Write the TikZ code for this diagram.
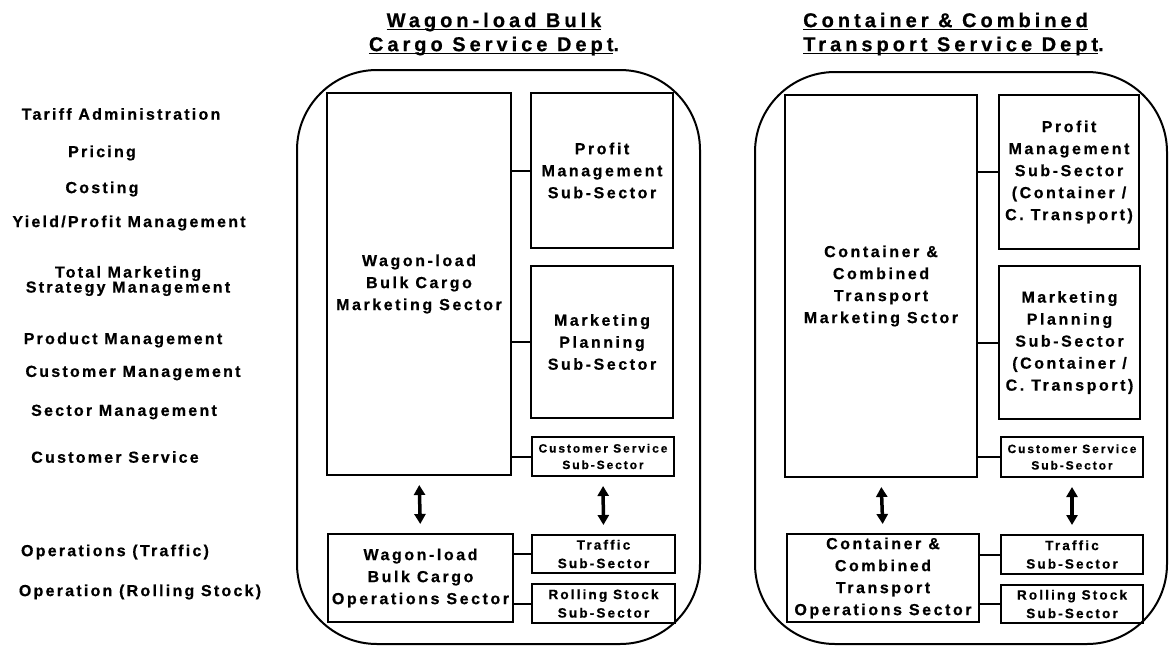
\documentclass[tikz,border=0pt]{standalone}
\usepackage{fontspec}
\setmainfont{Liberation Sans}
\newfontfamily\lsp{Liberation Sans}[LetterSpace=16, BoldFeatures={FakeBold=0.6}]
\newfontfamily\labf{Liberation Sans}[LetterSpace=14, BoldFeatures={FakeBold=0.6}]
\newfontfamily\tsp{Liberation Sans}[LetterSpace=20, BoldFeatures={FakeBold=0.6}]
\usetikzlibrary{arrows.meta}
\newcommand\myul[1]{\leavevmode\setbox0\hbox{#1}\rlap{\rule[-3pt]{\wd0}{1.5pt}}\box0}
\begin{document}
\begin{tikzpicture}[x=1pt,y=-1pt,
  frame/.style={draw, line width=2pt, rounded corners=80pt},
  box/.style={draw, line width=2pt, inner sep=0pt, align=center,
    font=\lsp\bfseries\fontsize{16}{22}\selectfont},
  smallbox/.style={box, font=\lsp\bfseries\fontsize{13.5}{18.5}\selectfont},
  tinybox/.style={box, font=\lsp\bfseries\fontsize{12}{16.5}\selectfont},
  lab/.style={inner sep=0pt, align=center, font=\labf\bfseries\fontsize{16}{15}\selectfont},
  ttl/.style={inner sep=0pt, font=\tsp\bfseries\fontsize{20}{24}\selectfont},
  link/.style={line width=2pt},
  dbl/.style={{Triangle[length=10pt,width=11pt]}-{Triangle[length=10pt,width=11pt]}, line width=3.5pt, shorten <=9pt, shorten >=9pt}]
\useasboundingbox (0,0) rectangle (1172,645);

% titles
\node[ttl, align=center] (t1) at (494,34) {\myul{Wagon-load Bulk}\\\myul{Cargo Service Dept}.};
\node[ttl, align=left, anchor=west] (t2) at (803,34) {\myul{Container \& Combined}\\\myul{Transport Service Dept}.};

% left labels
\node[lab] (l1) at (121,114) {Tariff Administration};
\node[lab] (l2) at (102,153) {Pricing};
\node[lab] (l3) at (102,189) {Costing};
\node[lab] (l4) at (129,223) {Yield/Profit Management};
\node[lab] (l5) at (128,281) {Total Marketing\\Strategy Management};
\node[lab] (l6) at (123,340) {Product Management};
\node[lab] (l7) at (133,373) {Customer Management};
\node[lab] (l8) at (124,412) {Sector Management};
\node[lab] (l9) at (115,457) {Customer Service};
\node[lab] (l10) at (115,552) {Operations (Traffic)};
\node[lab] (l11) at (140,592) {Operation (Rolling Stock)};

% frames
\draw[frame] (297,70) rectangle (700,644);
\draw[frame] (755,72) rectangle (1167,644);

% left department
\node[box, minimum width=184, minimum height=382] (mk) at (419,284) {Wagon-load\\Bulk Cargo\\Marketing Sector};
\node[box, minimum width=142, minimum height=155] (pm) at (602,170.5) {Profit\\Management\\Sub-Sector};
\node[box, minimum width=142, minimum height=152] (mp) at (602,342) {Marketing\\Planning\\Sub-Sector};
\node[tinybox, minimum width=142, minimum height=39] (cs) at (603,456.5) {Customer Service\\Sub-Sector};
\node[box, minimum width=185, minimum height=88] (ops) at (420.5,578) {Wagon-load\\Bulk Cargo\\Operations Sector};
\node[smallbox, minimum width=143, minimum height=38] (tr) at (603.5,554) {Traffic\\Sub-Sector};
\node[smallbox, minimum width=143, minimum height=39] (rs) at (603.5,603.5) {Rolling Stock\\Sub-Sector};

\draw[link] (pm.west) -- (pm.west -| mk.east);
\draw[link] (mp.west) -- (mp.west -| mk.east);
\draw[link] (cs.west) -- (cs.west -| mk.east);
\draw[link] (tr.west) -- (tr.west -| ops.east);
\draw[link] (rs.west) -- (rs.west -| ops.east);
\draw[dbl] (mk.south) -- (ops.north);
\draw[dbl] (cs.south) -- (tr.north);

% right department
\node[box, minimum width=192, minimum height=382] (mk2) at (881,286) {Container \&\\Combined\\Transport\\Marketing Sctor};
\node[box, minimum width=140, minimum height=154] (pm2) at (1069,172) {Profit\\Management\\Sub-Sector\\(Container /\\C. Transport)};
\node[box, minimum width=141, minimum height=153] (mp2) at (1069.5,342.5) {Marketing\\Planning\\Sub-Sector\\(Container /\\C. Transport)};
\node[tinybox, minimum width=142, minimum height=40] (cs2) at (1072,457) {Customer Service\\Sub-Sector};
\node[box, minimum width=192, minimum height=88] (ops2) at (883,578) {Container \&\\Combined\\Transport\\Operations Sector};
\node[smallbox, minimum width=142, minimum height=39] (tr2) at (1072,554.5) {Traffic\\Sub-Sector};
\node[smallbox, minimum width=142, minimum height=38] (rs2) at (1072,604) {Rolling Stock\\Sub-Sector};

\draw[link] (pm2.west) -- (pm2.west -| mk2.east);
\draw[link] (mp2.west) -- (mp2.west -| mk2.east);
\draw[link] (cs2.west) -- (cs2.west -| mk2.east);
\draw[link] (tr2.west) -- (tr2.west -| ops2.east);
\draw[link] (rs2.west) -- (rs2.west -| ops2.east);
\draw[dbl] (mk2.south) -- (ops2.north);
\draw[dbl] (cs2.south) -- (tr2.north);
\end{tikzpicture}
\end{document}
